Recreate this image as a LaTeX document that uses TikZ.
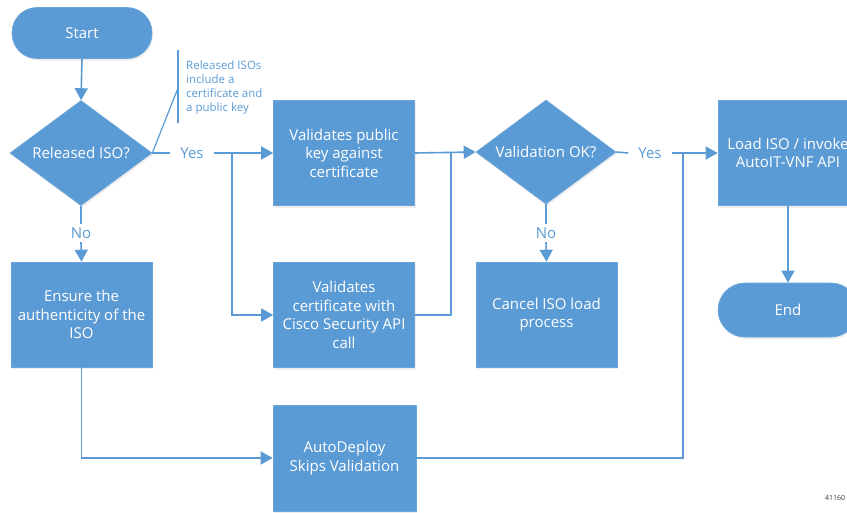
\documentclass[tikz,border=0pt]{standalone}
\usepackage{fontspec}
\setmainfont{Open Sans}
\usetikzlibrary{shapes.geometric,arrows.meta,shadows}

\definecolor{flowblue}{HTML}{5B9BD5}
\definecolor{notegray}{HTML}{333333}

\tikzset{
  base/.style={fill=flowblue, draw=flowblue!90!white, line width=0.6pt, text=white,
    font=\fontsize{15}{18.5}\selectfont, align=center, inner sep=0pt,
    drop shadow={opacity=0.14, shadow xshift=1pt, shadow yshift=-2pt}},
  process/.style={base, rectangle, minimum width=141pt, minimum height=105pt},
  terminal/.style={base, rectangle, rounded corners=25pt, minimum width=140pt, minimum height=51pt},
  decision/.style={base, diamond, minimum width=142pt, minimum height=105pt},
  flow/.style={draw=flowblue, line width=1.6pt},
  arrowflow/.style={flow, -{Triangle[length=12pt,width=13pt]}},
  branchlabel/.style={text=flowblue, font=\fontsize{15}{18}\selectfont,
    inner xsep=10pt, inner ysep=0pt, minimum height=18pt},
  note/.style={text=flowblue, font=\fontsize{11.5}{14}\selectfont, align=left,
    inner sep=0pt, anchor=north west}
}

\begin{document}
\begin{tikzpicture}[x=1pt, y=-1pt]
  \useasboundingbox (0,0) rectangle (847,512);
  \clip (0,0) rectangle (847,512);
  \fill[white] (0,0) rectangle (847,512);

  % --- shapes ---
  \node[terminal] (start) at (82,33) {Start};
  \node[decision] (d1) at (81,153) {\makebox[0pt]{Released ISO?}};
  \node[process] (b1) at (344,153) {Validates public\\key against\\certificate};
  \node[process] (b2) at (344,315) {Validates\\certificate with\\Cisco Security API\\call};
  \node[decision, minimum width=140pt, minimum height=104pt] (d2) at (546,152) {\makebox[0pt]{Validation OK?}};
  \node[process] (cancel) at (546.5,314.5) {Cancel ISO load\\process};
  \node[process, minimum width=140pt] (load) at (788,153) {Load ISO / invoke\\AutoIT-VNF API};
  \node[terminal, minimum height=54pt, rounded corners=27pt] (end) at (788,310) {End};
  \node[process] (ensure) at (81.5,314.5) {Ensure the\\authenticity of the\\ISO};
  \node[process, minimum width=143pt, minimum height=106pt] (auto) at (344.5,458) {AutoDeploy\\Skips Validation};

  % --- branch labels ---
  \node[branchlabel] (yes1) at (192,153) {Yes};
  \node[branchlabel] (yes2) at (650,153) {Yes};
  \node[branchlabel] (no1) at (81,233) {No};
  \node[branchlabel] (no2) at (546,233) {No};

  % --- junction points ---
  \coordinate (j1) at (232,153);
  \coordinate (j2) at (451,153);
  \coordinate (j3) at (683,153);

  % --- annotation bracket ---
  \coordinate (notetop) at (178,50);
  \coordinate (notebot) at (178,123);
  \coordinate (notemid) at (178,88);
  \draw[draw=flowblue, line width=1.2pt] (notetop) -- (notebot);
  \draw[draw=flowblue, line width=1.2pt] (d1.east) -- (notemid);
  \node[note] (notetext) at (186,61) {Released ISOs\\include a\\certificate and\\a public key};

  % --- connectors ---
  \draw[arrowflow] (start.south) -- (d1.north);
  \draw[flow] (d1.east) -- (yes1.west);
  \draw[arrowflow] (yes1.east) -- (b1.west);
  \draw[arrowflow] (j1) |- (b2.west);
  \draw[arrowflow] (b1.east) -- (d2.west);
  \draw[flow] (b2.east) -| (j2);
  \draw[flow] (d2.east) -- (yes2.west);
  \draw[arrowflow] (yes2.east) -- (load.west);
  \draw[flow] (auto.east) -| (j3);
  \draw[flow] (d1.south) -- (no1.north);
  \draw[arrowflow] (no1.south) -- (ensure.north);
  \draw[flow] (d2.south) -- (no2.north);
  \draw[arrowflow] (no2.south) -- (cancel.north);
  \draw[arrowflow] (ensure.south) |- (auto.west);
  \draw[arrowflow] (load.south) -- (end.north);

  % --- figure number ---
  \node[text=notegray, font=\fontsize{7}{8}\selectfont, anchor=west, inner sep=0pt] (fignum) at (825,498) {41160};
\end{tikzpicture}
\end{document}
